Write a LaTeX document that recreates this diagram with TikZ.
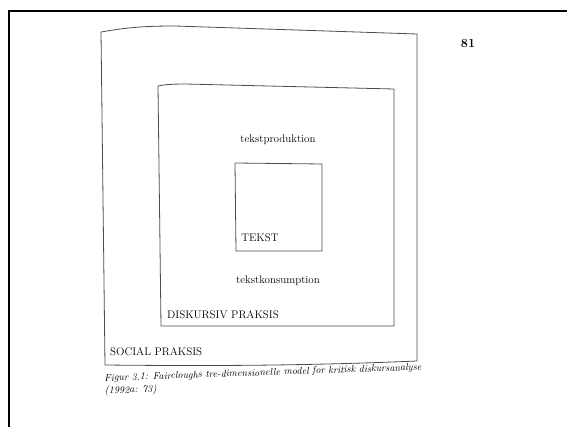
\documentclass[tikz,border=0pt]{standalone}
\usepackage{fontspec}

\tikzstyle{frame}=[draw=black,line width=2.4pt]
\tikzstyle{box}=[draw=black!70,line width=0.8pt]
\tikzstyle{lbl}=[inner sep=0pt,font=\fontsize{11}{13}\selectfont]
\tikzstyle{caption}=[inner sep=0pt,font=\fontsize{10}{12.5}\selectfont\itshape,align=left]

\begin{document}
\begin{tikzpicture}[x=1pt,y=-1pt]
\useasboundingbox (0,0) rectangle (567,427);
% page frame
   \draw[frame] (9,427) -- (9,11) -- (567,11);

% Social praksis
   \draw[box] (101,32) coordinate(stl) .. controls (125,28) and (140,26) ..
(175,26) -- (417,34) coordinate(str) -- (417,361) coordinate(sbr)
.. controls (300,366) and (200,366) .. (105,365) coordinate(sbl) -- (stl);

% Diskursiv praksis
   \draw[box] (158,86) coordinate(dtl) .. controls (162,85) and (170,84) ..
(185,84) -- (394,89) coordinate(dtr) -- (394,326) coordinate(dbr)
-- (161,326) coordinate(dbl) -- (dtl);

% Tekst
   \draw[box] (235,163) coordinate(ttl) -- (322,164) coordinate(ttr) --
(322,251) coordinate(tbr) -- (236,251) coordinate(tbl) -- (ttl);

   \node[lbl] (prod) at (278,140) {tekstproduktion};
   \node[lbl] (tekst) at (260,238) {TEKST};
   \node[lbl] (kons) at (278,281) {tekstkonsumption};
   \node[lbl,anchor=west] (disk) at (167,315) {DISKURSIV PRAKSIS};
   \node[lbl,anchor=west] (social) at (110,352) {SOCIAL PRAKSIS};
   \node[lbl,font=\fontsize{12.5}{14}\selectfont\bfseries] (page) at (468,43) {81};

   \node[caption,anchor=north west,rotate=2.0] (cap) at (104,374)
{Figur 3.1: Faircloughs tre-dimensionelle model for kritisk diskursanalyse\\(1992a: 73)};

\end{tikzpicture}
\end{document}
